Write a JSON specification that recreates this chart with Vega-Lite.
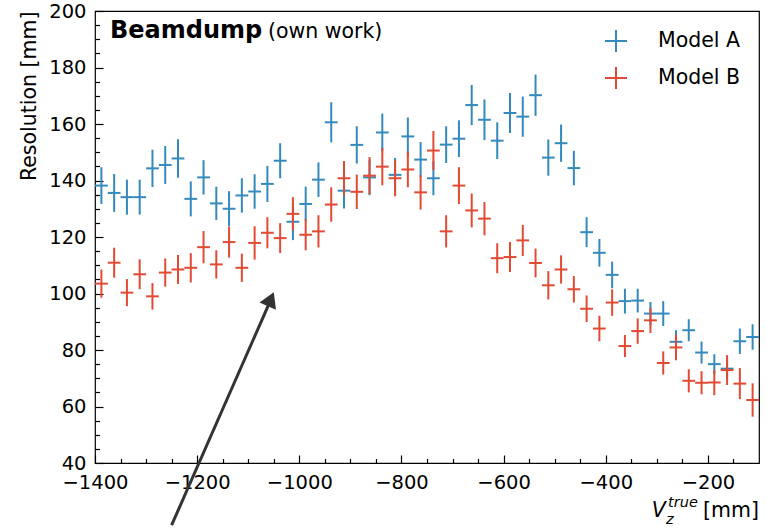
{
  "$schema": "https://vega.github.io/schema/vega-lite/v6.json",
  "width": 664,
  "height": 452,
  "autosize": {"type": "none"},
  "padding": {"left": 95, "top": 11, "right": 8, "bottom": 67},
  "background": "white",
  "datasets": {
    "res": [
      {"model":"Model A","x":-1387.5,"y":138.2,"yerr":6.5,"xerr":12.5},
      {"model":"Model A","x":-1362.5,"y":135.6,"yerr":6.7,"xerr":12.5},
      {"model":"Model A","x":-1337.5,"y":134.1,"yerr":6.2,"xerr":12.5},
      {"model":"Model A","x":-1312.5,"y":134.1,"yerr":6.2,"xerr":12.5},
      {"model":"Model A","x":-1287.5,"y":144.3,"yerr":6.6,"xerr":12.5},
      {"model":"Model A","x":-1262.5,"y":145.5,"yerr":6.7,"xerr":12.5},
      {"model":"Model A","x":-1237.5,"y":147.8,"yerr":6.8,"xerr":12.5},
      {"model":"Model A","x":-1212.5,"y":133.5,"yerr":6.2,"xerr":12.5},
      {"model":"Model A","x":-1187.5,"y":141.1,"yerr":6.1,"xerr":12.5},
      {"model":"Model A","x":-1162.5,"y":131.9,"yerr":5.9,"xerr":12.5},
      {"model":"Model A","x":-1137.5,"y":130.0,"yerr":6.2,"xerr":12.5},
      {"model":"Model A","x":-1112.5,"y":134.7,"yerr":6.1,"xerr":12.5},
      {"model":"Model A","x":-1087.5,"y":136.1,"yerr":6.1,"xerr":12.5},
      {"model":"Model A","x":-1062.5,"y":138.8,"yerr":6.4,"xerr":12.5},
      {"model":"Model A","x":-1037.5,"y":147.0,"yerr":6.2,"xerr":12.5},
      {"model":"Model A","x":-1012.5,"y":125.4,"yerr":6.5,"xerr":12.5},
      {"model":"Model A","x":-987.5,"y":131.7,"yerr":6.1,"xerr":12.5},
      {"model":"Model A","x":-962.5,"y":140.3,"yerr":6.1,"xerr":12.5},
      {"model":"Model A","x":-937.5,"y":160.6,"yerr":7.1,"xerr":12.5},
      {"model":"Model A","x":-912.5,"y":136.4,"yerr":6.3,"xerr":12.5},
      {"model":"Model A","x":-887.5,"y":152.6,"yerr":6.6,"xerr":12.5},
      {"model":"Model A","x":-862.5,"y":141.1,"yerr":6.3,"xerr":12.5},
      {"model":"Model A","x":-837.5,"y":157.0,"yerr":6.7,"xerr":12.5},
      {"model":"Model A","x":-812.5,"y":142.0,"yerr":6.0,"xerr":12.5},
      {"model":"Model A","x":-787.5,"y":155.6,"yerr":6.7,"xerr":12.5},
      {"model":"Model A","x":-762.5,"y":147.4,"yerr":6.2,"xerr":12.5},
      {"model":"Model A","x":-737.5,"y":140.8,"yerr":6.0,"xerr":12.5},
      {"model":"Model A","x":-712.5,"y":152.7,"yerr":6.5,"xerr":12.5},
      {"model":"Model A","x":-687.5,"y":154.8,"yerr":6.5,"xerr":12.5},
      {"model":"Model A","x":-662.5,"y":166.7,"yerr":7.1,"xerr":12.5},
      {"model":"Model A","x":-637.5,"y":161.5,"yerr":7.2,"xerr":12.5},
      {"model":"Model A","x":-612.5,"y":154.1,"yerr":6.5,"xerr":12.5},
      {"model":"Model A","x":-587.5,"y":163.9,"yerr":7.1,"xerr":12.5},
      {"model":"Model A","x":-562.5,"y":162.6,"yerr":7.1,"xerr":12.5},
      {"model":"Model A","x":-537.5,"y":170.2,"yerr":7.3,"xerr":12.5},
      {"model":"Model A","x":-512.5,"y":148.1,"yerr":6.4,"xerr":12.5},
      {"model":"Model A","x":-487.5,"y":153.2,"yerr":6.6,"xerr":12.5},
      {"model":"Model A","x":-462.5,"y":144.4,"yerr":6.1,"xerr":12.5},
      {"model":"Model A","x":-437.5,"y":121.7,"yerr":5.3,"xerr":12.5},
      {"model":"Model A","x":-412.5,"y":114.4,"yerr":4.9,"xerr":12.5},
      {"model":"Model A","x":-387.5,"y":106.6,"yerr":4.7,"xerr":12.5},
      {"model":"Model A","x":-362.5,"y":97.3,"yerr":4.4,"xerr":12.5},
      {"model":"Model A","x":-337.5,"y":97.5,"yerr":4.2,"xerr":12.5},
      {"model":"Model A","x":-312.5,"y":92.9,"yerr":4.1,"xerr":12.5},
      {"model":"Model A","x":-287.5,"y":92.9,"yerr":4.4,"xerr":12.5},
      {"model":"Model A","x":-262.5,"y":82.9,"yerr":4.1,"xerr":12.5},
      {"model":"Model A","x":-237.5,"y":87.0,"yerr":3.9,"xerr":12.5},
      {"model":"Model A","x":-212.5,"y":79.1,"yerr":3.9,"xerr":12.5},
      {"model":"Model A","x":-187.5,"y":75.0,"yerr":3.5,"xerr":12.5},
      {"model":"Model A","x":-162.5,"y":73.4,"yerr":3.5,"xerr":12.5},
      {"model":"Model A","x":-137.5,"y":83.1,"yerr":4.5,"xerr":12.5},
      {"model":"Model A","x":-112.5,"y":84.6,"yerr":4.5,"xerr":12.5},
      {"model":"Model B","x":-1387.5,"y":103.5,"yerr":5.0,"xerr":12.5},
      {"model":"Model B","x":-1362.5,"y":110.9,"yerr":5.3,"xerr":12.5},
      {"model":"Model B","x":-1337.5,"y":100.3,"yerr":4.8,"xerr":12.5},
      {"model":"Model B","x":-1312.5,"y":106.8,"yerr":5.3,"xerr":12.5},
      {"model":"Model B","x":-1287.5,"y":99.0,"yerr":4.7,"xerr":12.5},
      {"model":"Model B","x":-1262.5,"y":107.4,"yerr":5.0,"xerr":12.5},
      {"model":"Model B","x":-1237.5,"y":108.5,"yerr":5.1,"xerr":12.5},
      {"model":"Model B","x":-1212.5,"y":109.1,"yerr":5.2,"xerr":12.5},
      {"model":"Model B","x":-1187.5,"y":116.4,"yerr":5.7,"xerr":12.5},
      {"model":"Model B","x":-1162.5,"y":110.3,"yerr":5.0,"xerr":12.5},
      {"model":"Model B","x":-1137.5,"y":118.2,"yerr":5.5,"xerr":12.5},
      {"model":"Model B","x":-1112.5,"y":109.1,"yerr":5.0,"xerr":12.5},
      {"model":"Model B","x":-1087.5,"y":117.9,"yerr":5.9,"xerr":12.5},
      {"model":"Model B","x":-1062.5,"y":121.5,"yerr":5.5,"xerr":12.5},
      {"model":"Model B","x":-1037.5,"y":119.6,"yerr":5.3,"xerr":12.5},
      {"model":"Model B","x":-1012.5,"y":128.2,"yerr":5.9,"xerr":12.5},
      {"model":"Model B","x":-987.5,"y":120.8,"yerr":5.5,"xerr":12.5},
      {"model":"Model B","x":-962.5,"y":122.0,"yerr":5.7,"xerr":12.5},
      {"model":"Model B","x":-937.5,"y":131.5,"yerr":6.1,"xerr":12.5},
      {"model":"Model B","x":-912.5,"y":140.8,"yerr":6.1,"xerr":12.5},
      {"model":"Model B","x":-887.5,"y":136.0,"yerr":6.1,"xerr":12.5},
      {"model":"Model B","x":-862.5,"y":141.7,"yerr":6.6,"xerr":12.5},
      {"model":"Model B","x":-837.5,"y":144.9,"yerr":6.6,"xerr":12.5},
      {"model":"Model B","x":-812.5,"y":140.8,"yerr":6.4,"xerr":12.5},
      {"model":"Model B","x":-787.5,"y":143.9,"yerr":6.3,"xerr":12.5},
      {"model":"Model B","x":-762.5,"y":135.8,"yerr":6.1,"xerr":12.5},
      {"model":"Model B","x":-737.5,"y":150.6,"yerr":6.9,"xerr":12.5},
      {"model":"Model B","x":-712.5,"y":122.0,"yerr":5.7,"xerr":12.5},
      {"model":"Model B","x":-687.5,"y":138.2,"yerr":6.5,"xerr":12.5},
      {"model":"Model B","x":-662.5,"y":129.4,"yerr":6.0,"xerr":12.5},
      {"model":"Model B","x":-637.5,"y":126.5,"yerr":5.9,"xerr":12.5},
      {"model":"Model B","x":-612.5,"y":112.5,"yerr":5.3,"xerr":12.5},
      {"model":"Model B","x":-587.5,"y":112.9,"yerr":5.3,"xerr":12.5},
      {"model":"Model B","x":-562.5,"y":118.8,"yerr":5.5,"xerr":12.5},
      {"model":"Model B","x":-537.5,"y":110.8,"yerr":5.1,"xerr":12.5},
      {"model":"Model B","x":-512.5,"y":102.9,"yerr":5.0,"xerr":12.5},
      {"model":"Model B","x":-487.5,"y":108.5,"yerr":5.0,"xerr":12.5},
      {"model":"Model B","x":-462.5,"y":101.5,"yerr":4.7,"xerr":12.5},
      {"model":"Model B","x":-437.5,"y":94.6,"yerr":4.7,"xerr":12.5},
      {"model":"Model B","x":-412.5,"y":87.6,"yerr":4.5,"xerr":12.5},
      {"model":"Model B","x":-387.5,"y":96.8,"yerr":4.7,"xerr":12.5},
      {"model":"Model B","x":-362.5,"y":81.4,"yerr":3.9,"xerr":12.5},
      {"model":"Model B","x":-337.5,"y":86.7,"yerr":4.5,"xerr":12.5},
      {"model":"Model B","x":-312.5,"y":90.5,"yerr":4.5,"xerr":12.5},
      {"model":"Model B","x":-287.5,"y":75.4,"yerr":4.1,"xerr":12.5},
      {"model":"Model B","x":-262.5,"y":80.9,"yerr":4.5,"xerr":12.5},
      {"model":"Model B","x":-237.5,"y":69.1,"yerr":4.1,"xerr":12.5},
      {"model":"Model B","x":-212.5,"y":68.4,"yerr":4.1,"xerr":12.5},
      {"model":"Model B","x":-187.5,"y":68.5,"yerr":4.5,"xerr":12.5},
      {"model":"Model B","x":-162.5,"y":72.9,"yerr":5.3,"xerr":12.5},
      {"model":"Model B","x":-137.5,"y":68.1,"yerr":5.5,"xerr":12.5},
      {"model":"Model B","x":-112.5,"y":62.3,"yerr":5.9,"xerr":12.5}
    ]
  },
  "data": {"name": "res"},
  "layer": [
    {
      "transform": [{"filter": "datum.model == 'Model A'"}],
      "mark": {"type": "errorbar", "thickness": 2},
      "encoding": {
        "x": {"field": "x", "type": "quantitative",
              "scale": {"domain": [-1400, -100], "nice": false, "zero": false},
              "axis": {"orient": "bottom", "title": null, "values": [-1400,-1200,-1000,-800,-600,-400,-200],
                       "format": "d", "tickSize": -8, "labelPadding": 18.5, "labelFlush": false, "labelOverlap": false}},
        "y": {"field": "y", "type": "quantitative",
              "scale": {"domain": [40, 200], "nice": false, "zero": false},
              "axis": {"orient": "left", "title": "Resolution [mm]", "values": [40,60,80,100,120,140,160,180,200],
                       "format": "d", "tickSize": -8, "labelPadding": 17, "titleAnchor": "end", "titlePadding": 9.5}},
        "yError": {"field": "yerr"},
        "color": {"field": "model", "type": "nominal",
                  "scale": {"domain": ["Model A", "Model B"], "range": ["#348ABD", "#E24A33"]},
                  "legend": {"title": null}}
      }
    },
    {
      "transform": [{"filter": "datum.model == 'Model A'"}],
      "mark": {"type": "errorbar", "thickness": 2},
      "encoding": {
        "x": {"field": "x", "type": "quantitative", "axis": null},
        "y": {"field": "y", "type": "quantitative", "axis": null},
        "xError": {"field": "xerr"},
        "color": {"field": "model", "type": "nominal", "legend": {"title": null}}
      }
    },
    {
      "transform": [{"filter": "datum.model == 'Model B'"}],
      "mark": {"type": "errorbar", "thickness": 2},
      "encoding": {
        "x": {"field": "x", "type": "quantitative", "axis": null},
        "y": {"field": "y", "type": "quantitative", "axis": null},
        "yError": {"field": "yerr"},
        "color": {"field": "model", "type": "nominal", "legend": {"title": null}}
      }
    },
    {
      "transform": [{"filter": "datum.model == 'Model B'"}],
      "mark": {"type": "errorbar", "thickness": 2},
      "encoding": {
        "x": {"field": "x", "type": "quantitative", "axis": null},
        "y": {"field": "y", "type": "quantitative", "axis": null},
        "xError": {"field": "xerr"},
        "color": {"field": "model", "type": "nominal", "legend": {"title": null}}
      }
    },
    {
      "data": {"values": [{}]},
      "mark": {"type": "rule", "color": "#333333", "strokeWidth": 3, "clip": false},
      "encoding": {
        "x": {"datum": -1250, "type": "quantitative",
              "axis": {"orient": "bottom", "title": null, "labels": false, "domain": false,
                       "values": [-1350,-1300,-1250,-1150,-1100,-1050,-950,-900,-850,-750,-700,-650,-550,-500,-450,-350,-300,-250,-150],
                       "tickSize": -4.5}},
        "y": {"datum": 18, "type": "quantitative",
              "axis": {"orient": "left", "title": null, "labels": false, "domain": false,
                       "values": [45,50,55,65,70,75,85,90,95,105,110,115,125,130,135,145,150,155,165,170,175,185,190,195],
                       "tickSize": -4.5}},
        "x2": {"datum": -1057},
        "y2": {"datum": 97.3}
      }
    },
    {
      "data": {"values": [{}]},
      "mark": {"type": "point", "shape": "M0,0L0.6,1L-0.6,1Z", "size": 900, "angle": 23.7,
               "filled": true, "color": "#333333", "opacity": 1, "strokeWidth": 0, "clip": false},
      "encoding": {
        "x": {"datum": -1050, "type": "quantitative", "axis": null},
        "y": {"datum": 100.4, "type": "quantitative", "axis": null}
      }
    },
    {
      "data": {"values": [{}]},
      "mark": {"type": "text", "text": "Beamdump", "font": "DejaVu Sans", "fontWeight": "bold", "fontSize": 24,
               "align": "left", "baseline": "alphabetic", "color": "#000000", "clip": false},
      "encoding": {
        "x": {"datum": -1370.7, "type": "quantitative", "axis": null},
        "y": {"datum": 190.3, "type": "quantitative", "axis": null}
      }
    },
    {
      "data": {"values": [{}]},
      "mark": {"type": "text", "text": "(own work)", "font": "DejaVu Sans", "fontSize": 20.5,
               "align": "left", "baseline": "alphabetic", "color": "#000000", "clip": false},
      "encoding": {
        "x": {"datum": -1061.5, "type": "quantitative", "axis": null},
        "y": {"datum": 190.3, "type": "quantitative", "axis": null}
      }
    },
    {
      "data": {"values": [{}]},
      "mark": {"type": "text", "text": "[mm]", "font": "DejaVu Sans", "fontSize": 20.5,
               "align": "right", "baseline": "alphabetic", "color": "#000000", "clip": false},
      "encoding": {
        "x": {"datum": -100, "type": "quantitative", "axis": null},
        "y": {"datum": 21.0, "type": "quantitative", "axis": null}
      }
    },
    {
      "data": {"values": [{}]},
      "mark": {"type": "text", "text": "V", "font": "DejaVu Sans", "fontStyle": "italic", "fontSize": 20.5,
               "align": "left", "baseline": "alphabetic", "color": "#000000", "clip": false},
      "encoding": {
        "x": {"datum": -310, "type": "quantitative", "axis": null},
        "y": {"datum": 21.0, "type": "quantitative", "axis": null}
      }
    },
    {
      "data": {"values": [{}]},
      "mark": {"type": "text", "text": "true", "font": "DejaVu Sans", "fontStyle": "italic", "fontSize": 14.5,
               "align": "left", "baseline": "alphabetic", "color": "#000000", "clip": false},
      "encoding": {
        "x": {"datum": -278, "type": "quantitative", "axis": null},
        "y": {"datum": 24.4, "type": "quantitative", "axis": null}
      }
    },
    {
      "data": {"values": [{}]},
      "mark": {"type": "text", "text": "z", "font": "DejaVu Sans", "fontStyle": "italic", "fontSize": 14.5,
               "align": "left", "baseline": "alphabetic", "color": "#000000", "clip": false},
      "encoding": {
        "x": {"datum": -282, "type": "quantitative", "axis": null},
        "y": {"datum": 18.3, "type": "quantitative", "axis": null}
      }
    }
  ],
  "resolve": {"axis": {"x": "independent", "y": "independent"}},
  "config": {
    "font": "DejaVu Sans",
    "view": {"stroke": "#000000", "strokeWidth": 1.2},
    "axis": {
      "domain": false,
      "grid": false,
      "labelFont": "DejaVu Sans",
      "labelFontSize": 19.5,
      "labelColor": "#000000",
      "tickColor": "#000000",
      "tickWidth": 1.2,
      "titleFont": "DejaVu Sans",
      "titleFontSize": 20.5,
      "titleFontWeight": "normal",
      "titleColor": "#000000"
    },
    "legend": {
      "orient": "top-right",
      "offset": 18,
      "padding": 0,
      "labelFont": "DejaVu Sans",
      "labelFontSize": 20.5,
      "labelColor": "#000000",
      "labelOffset": 30,
      "symbolType": "M-1,0L1,0M0,-1L0,1",
      "symbolSize": 484,
      "symbolStrokeWidth": 2,
      "symbolFillColor": "transparent",
      "rowPadding": 7
    }
  }
}
